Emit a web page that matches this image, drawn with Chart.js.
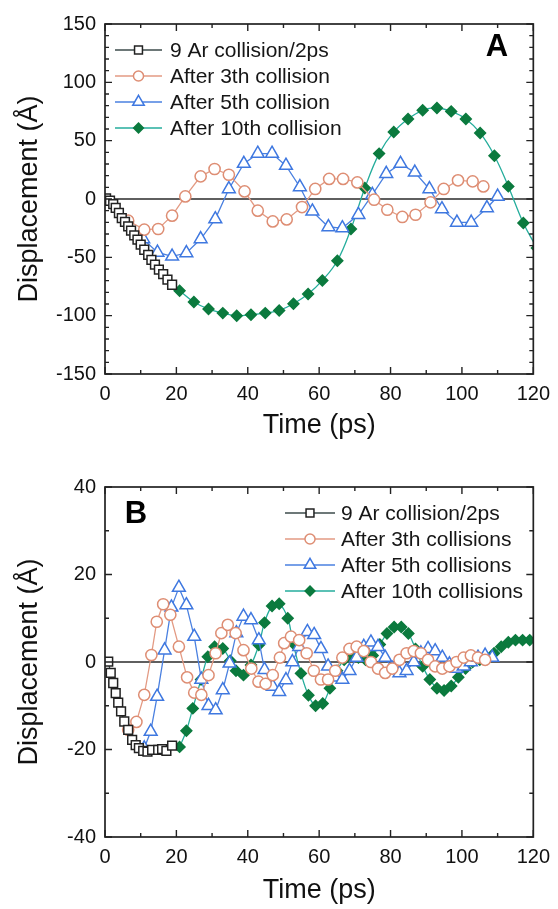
<!DOCTYPE html>
<html><head><meta charset="utf-8">
<script src="https://cdn.jsdelivr.net/npm/chart.js@4.4.1/dist/chart.umd.min.js"></script>
<style>
html,body{margin:0;padding:0;background:#fff;}
#wrap{position:relative;width:558px;height:909px;overflow:hidden;}
canvas{position:absolute;left:0;}
</style></head><body>
<div id="wrap">
<canvas id="chartA" width="558" height="455" style="top:0"></canvas>
<canvas id="chartB" width="558" height="454" style="top:455px"></canvas>
</div>
<script>
// ---------- Panel A data ----------
const labelsA = ['9 Ar collision/2ps','After 3th collision','After 5th collision','After 10th collision'];
const aTimeSq = [0.3,1.4,2.3,3.0,3.9,4.7,5.6,6.5,7.3,8.2,9.1,10.0,11.0,12.1,13.0,14.0,15.1,16.3,17.5,18.8];
const aDispSq = [0.6,-1.5,-4.3,-7.7,-12,-16.3,-19.7,-23.5,-27.2,-31.2,-34.9,-39.2,-43.5,-47.8,-52.1,-56.3,-60.6,-64.3,-69.2,-73.5];
const aTime3 = [6.5,11.0,14.9,18.8,22.5,26.8,30.7,34.7,39.1,42.8,47.0,50.9,55.2,58.9,62.8,66.7,70.7,75.4,79.1,83.3,87.0,91.2,94.9,98.9,103.0,106.0];
const aDisp3 = [-18.6,-26.3,-25.7,-14.3,2.2,19.4,25.7,20.8,6.5,-10,-19.2,-17.5,-6.9,8.6,17.2,17.2,14.2,-0.6,-9.2,-15.4,-13.5,-2.9,8.6,16,15.1,10.8];
const aTime5 = [10.7,14.7,18.8,22.8,26.8,30.9,34.7,38.9,42.8,46.8,50.7,54.6,58.1,62.6,66.5,71.0,74.9,78.8,82.8,86.8,90.9,94.4,98.6,102.6,107.0,110.0];
const aDisp5 = [-34.3,-45.8,-49.2,-46.3,-34.3,-17.2,8.6,30.3,38.9,38.9,28.6,10.3,-10.6,-24,-24.9,-13.5,3.7,21.7,30.3,22.8,8.6,-8.6,-20.1,-20.1,-7.7,2.2];
const aTime10 = [20.9,24.9,29.0,33.0,36.9,40.9,44.9,48.8,52.8,56.9,60.9,65.1,68.9,72.8,76.8,80.9,84.9,89.0,93.0,97.0,101.1,105.1,109.1,113.0,117.2,121.0];
const aDisp10 = [-78.6,-88.3,-94.3,-97.8,-100,-99.2,-97.8,-95.5,-89.8,-81.5,-69.8,-52.9,-25.7,9.4,38.9,57.5,68.6,76,78,75.1,68.6,56.6,37.1,10.8,-20.6,-42];

// ---------- Panel B data ----------
const labelsB = ['9 Ar collision/2ps','After 3th collisions','After 5th collisions','After 10th collisions'];
const bTimeSq = [0.9,1.6,2.3,3.0,3.7,4.5,5.4,6.5,7.6,8.6,9.5,10.7,11.9,13.2,14.9,16.0,17.2,18.8];
const bDispSq = [0.1,-2.5,-4.8,-7.1,-9.3,-11.3,-13.6,-15.5,-17.8,-19,-19.7,-20.3,-20.5,-20.1,-20.1,-19.9,-20.3,-19.1];
const bTime3 = [6.5,8.8,11.0,13.0,14.5,16.3,18.3,20.7,23.0,25,27,29,31,32.6,34.4,36.6,38.8,41,43,45,47,49,50.2,52.1,54.4,56.5,58.5,60.5,62.5,64.5,66.5,68.5,70.5,72.5,74.5,76.5,78.5,80.5,82.5,84.5,86.5,88.5,90.5,92.5,94.5,96.5,98.5,100.5,102.5,104.5,106.5];
const bDisp3 = [-15.5,-13.7,-7.5,1.6,9.2,13.2,10.8,3.5,-3.5,-7,-7.5,-3,2,6.6,8.5,6.6,2.7,-1.5,-4.5,-5,-3,1,4.3,5.8,5,2,-2,-4,-4,-2,1,3,3.5,2.5,0,-1.5,-2.5,-1.5,0.5,2,2.5,2,0.5,-1,-1.5,-1,0,1,1.5,1,0.5];
const bTime5 = [11.0,12.8,14.6,16.7,18.6,20.7,22.8,25.0,27.0,29,31,33,34.9,36.8,38.8,40.9,43.1,44.7,47.0,48.8,50.7,52.5,54.4,56.7,58.6,60.5,62.5,64.5,66.5,68.5,70.5,72.5,74.5,76.5,78.5,80.5,82.5,84.5,86.5,88.5,90.5,92.5,94.5,96.5,98.5,100.5,102.5,104.5,106.5,108.5];
const bDisp5 = [-19.7,-15.9,-7.9,2.7,12.5,17,13,5.8,-4,-10,-11,-6.4,-0.3,6.6,10.4,9.6,5,-1.8,-5.6,-6.8,-4.1,0,3.5,6.9,6.2,3,-1,-3.5,-4,-2,1,3.5,4.5,3.5,1,-1.5,-2.5,-2,0,2,3,2.5,1,-0.5,-1.5,-1,0,1,1.5,1];
const bTime10 = [20.9,22.8,24.6,26.9,28.8,30.7,33.0,35.1,36.7,38.8,40.9,43.1,44.7,46.8,48.8,51.2,52.7,54.9,57.0,59,61,63,65,67,69,71,73,75,77,79,81,83,85,87,89,91,93,95,97,99,101,103,105,107,109,111,113,115,117,119];
const bDisp10 = [-19.4,-15.7,-10.6,-4,1.2,3.5,3.1,0.3,-2,-3,-0.7,3.9,9,12.8,13.3,10,4.3,-2.6,-7.6,-10,-9.5,-6,-2,0.5,1.5,1,0.5,1.5,4,6.5,8,8,6.5,3,-1,-4,-6,-6.5,-5.5,-3.5,-1.5,0,0.5,1,2,3.5,4.5,5,5,5];

// ---------- styles ----------
const FONT = '"Liberation Sans", Arial, Helvetica, sans-serif';
const styles = [
  {line:'#3d4b4b', border:'#222', fill:'#ffffff', shape:'rect', r:6.2, tension:0},
  {line:'#e39a83', border:'#de8e74', fill:'#ffffff', shape:'circle', r:5.6, tension:0},
  {line:'#4a80e0', border:'#3f78e0', fill:'#ffffff', shape:'triangle', r:7.4, tension:0},
  {line:'#25ad9c', border:'#0b7a3e', fill:'#0b7a3e', shape:'rectRot', r:5.4, tension:0.4}
];

function pts(xs, ys){ return xs.map((x,i)=>({x:x, y:ys[i]})); }
function makeSets(labels, series){
  return series.map((s,i)=>{
    const st = styles[i];
    return {
      label: labels[i], data: pts(s[0], s[1]),
      borderColor: st.line, borderWidth: 1.3,
      pointStyle: st.shape, pointRadius: st.r, pointHoverRadius: st.r,
      pointBorderColor: st.border, pointBackgroundColor: st.fill, pointBorderWidth: 1.5,
      tension: st.tension, showLine: true, fill:false
    };
  });
}

function drawMarker(ctx, shape, x, y, r, fill, stroke){
  ctx.save();
  ctx.fillStyle = fill; ctx.strokeStyle = stroke; ctx.lineWidth = 1.5;
  ctx.beginPath();
  if (shape==='rect'){ const s=r*Math.SQRT1_2; ctx.rect(x-s,y-s,2*s,2*s); }
  else if (shape==='circle'){ ctx.arc(x,y,r,0,Math.PI*2); }
  else if (shape==='triangle'){ ctx.moveTo(x, y-r); ctx.lineTo(x+r*Math.sin(Math.PI/3), y+r*0.5); ctx.lineTo(x-r*Math.sin(Math.PI/3), y+r*0.5); ctx.closePath(); }
  else { ctx.moveTo(x,y-r); ctx.lineTo(x+r,y); ctx.lineTo(x,y+r); ctx.lineTo(x-r,y); ctx.closePath(); }
  ctx.fill(); ctx.stroke(); ctx.restore();
}

const panelPlugin = {
  id: 'panel',
  beforeDatasetsDraw(chart, args, o){
    const {ctx, chartArea:a, scales} = chart;
    const y0 = scales.y.getPixelForValue(0);
    ctx.save(); ctx.strokeStyle='#2a2a2a'; ctx.lineWidth=1.7;
    ctx.beginPath(); ctx.moveTo(a.left,y0); ctx.lineTo(a.right,y0); ctx.stroke(); ctx.restore();
  },
  afterDatasetsDraw(chart, args, o){
    const {ctx, chartArea:a, scales} = chart;
    const xs = scales.x, ys = scales.y;
    ctx.save();
    ctx.strokeStyle = '#222'; ctx.lineWidth = 1.7;
    ctx.strokeRect(a.left, a.top, a.right-a.left, a.bottom-a.top);
    ctx.lineWidth = 1.4;
    ctx.beginPath();
    for (let v = xs.min; v <= xs.max + 1e-9; v += o.xMinor){
      const p = xs.getPixelForValue(v);
      const L = (Math.abs(v % o.xMajor) < 1e-9) ? 7 : 4;
      ctx.moveTo(p, a.bottom); ctx.lineTo(p, a.bottom - L);
      ctx.moveTo(p, a.top); ctx.lineTo(p, a.top + L);
    }
    for (let v = ys.min; v <= ys.max + 1e-9; v += o.yMinor){
      const p = ys.getPixelForValue(v);
      const L = (Math.abs(v % o.yMajor) < 1e-9) ? 7 : 4;
      ctx.moveTo(a.left, p); ctx.lineTo(a.left + L, p);
      ctx.moveTo(a.right, p); ctx.lineTo(a.right - L, p);
    }
    ctx.stroke();
    // legend
    const lg = o.legend;
    chart.data.datasets.forEach((ds,i)=>{
      const st = styles[i];
      const y = lg.y + i*lg.dy;
      ctx.strokeStyle = st.line; ctx.lineWidth = 1.3;
      ctx.beginPath(); ctx.moveTo(lg.x, y); ctx.lineTo(lg.x + lg.len, y); ctx.stroke();
      drawMarker(ctx, st.shape, lg.x + lg.len/2, y, st.r*0.9, st.fill, st.border);
      ctx.fillStyle = '#161616'; ctx.font = lg.font + 'px ' + FONT;
      ctx.textBaseline = 'middle'; ctx.textAlign = 'left';
      ctx.fillText(ds.label, lg.x + lg.len + lg.gap, y + 1);
    });
    // panel letter
    ctx.fillStyle = '#000'; ctx.font = 'bold 31px ' + FONT;
    ctx.textAlign = 'center'; ctx.textBaseline = 'middle';
    ctx.fillText(o.letter, o.letterX, o.letterY);
    ctx.restore();
  }
};

function makeChart(id, sets, cfg){
  return new Chart(document.getElementById(id), {
    type: 'scatter',
    data: { datasets: sets },
    options: {
      responsive: false, animation: false, devicePixelRatio: 1,
      layout: { padding: { left: 0, right: 23, top: cfg.top, bottom: 0 } },
      plugins: { legend: {display:false}, tooltip: {enabled:false}, panel: cfg.panel },
      scales: {
        x: {
          type:'linear', min:0, max:120,
          grid:{display:false, drawTicks:false, tickLength:0}, border:{display:false},
          ticks:{stepSize:20, padding:cfg.xPad, color:'#111', font:{family:FONT, size:20}, maxRotation:0},
          title:{display:true, text:'Time (ps)', color:'#111', font:{family:FONT, size:27}, padding:{top:0, bottom:cfg.xTitlePad}},
          afterFit(s){ s.height = cfg.xH; }
        },
        y: {
          type:'linear', min:cfg.yMin, max:cfg.yMax,
          grid:{display:false, drawTicks:false, tickLength:0}, border:{display:false},
          ticks:{stepSize:cfg.yStep, padding:9, color:'#111', font:{family:FONT, size:20}},
          title:{display:true, text:'Displacement (Å)', color:'#111', font:{family:FONT, size:27}, padding:{top:13, bottom:0}},
          afterFit(s){ s.width = 105; }
        }
      }
    },
    plugins: [panelPlugin]
  });
}

makeChart('chartA', makeSets(labelsA, [[aTimeSq,aDispSq],[aTime3,aDisp3],[aTime5,aDisp5],[aTime10,aDisp10]]), {
  top: 24, xH: 81, xPad: 8, xTitlePad: 13, yMin:-150, yMax:150, yStep:50,
  panel: { xMinor:10, xMajor:20, yMinor:10, yMajor:50, letter:'A', letterX:497, letterY:47,
           legend:{x:115, y:50, dy:26, len:47, gap:8, font:21} }
});
makeChart('chartB', makeSets(labelsB, [[bTimeSq,bDispSq],[bTime3,bDisp3],[bTime5,bDisp5],[bTime10,bDisp10]]), {
  top: 32, xH: 72, xPad: 8, xTitlePad: 2, yMin:-40, yMax:40, yStep:20,
  panel: { xMinor:10, xMajor:20, yMinor:10, yMajor:20, letter:'B', letterX:136, letterY:59,
           legend:{x:285, y:58, dy:26, len:50, gap:6, font:21} }
});
</script>
</body></html>
